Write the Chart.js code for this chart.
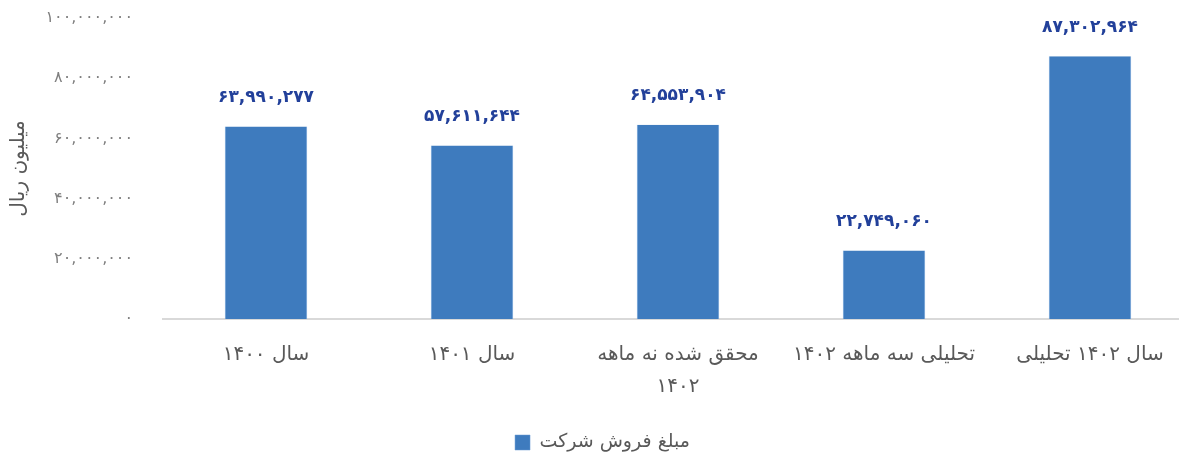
<!DOCTYPE html>
<html>
<head>
<meta charset="utf-8">
<script src="https://cdn.jsdelivr.net/npm/chart.js@4.4.0/dist/chart.umd.min.js"></script>
<style>
  html, body { margin: 0; padding: 0; background: #ffffff; overflow: hidden; }
  #wrap { width: 1193px; height: 455px; position: relative; }
</style>
</head>
<body>
<div id="wrap"><canvas id="c" width="1193" height="455"></canvas></div>
<script>
const categories = [
  "سال ۱۴۰۰",
  "سال ۱۴۰۱",
  ["محقق شده نه ماهه", "۱۴۰۲"],
  "تحلیلی سه ماهه ۱۴۰۲",
  "سال ۱۴۰۲ تحلیلی"
];
const salesValues = [63990277, 57611644, 64553904, 22749060, 87302964];
const seriesName = "مبلغ فروش شرکت";
const axisTitle = "میلیون ریال";
const yTicks = [0, 20000000, 40000000, 60000000, 80000000, 100000000];

const FA = "۰۱۲۳۴۵۶۷۸۹";
function toFa(n) {
  return Math.round(n).toLocaleString('en-US').replace(/[0-9]/g, d => FA[+d]);
}

const FONT = "'DejaVu Sans', sans-serif";

const valueLabels = {
  id: 'valueLabels',
  afterDatasetsDraw(chart) {
    const ctx = chart.ctx;
    const meta = chart.getDatasetMeta(0);
    ctx.save();
    ctx.font = "bold 17px " + FONT;
    ctx.fillStyle = '#22409A';
    ctx.textAlign = 'center';
    ctx.textBaseline = 'middle';
    meta.data.forEach((bar, i) => {
      ctx.fillText(toFa(salesValues[i]), bar.x, bar.y - 29);
    });
    ctx.restore();
  }
};

const legendShift = {
  id: 'legendShift',
  afterLayout(chart) {
    const lg = chart.legend;
    if (lg) { lg.left += 6; lg.right += 6; lg.top += 7; lg.bottom += 7; }
  }
};

new Chart(document.getElementById('c'), {
  type: 'bar',
  data: {
    labels: categories,
    datasets: [{
      label: seriesName,
      data: salesValues,
      backgroundColor: '#3E7BBE',
      borderColor: '#6A9BD3',
      borderWidth: { left: 1, right: 1, top: 0, bottom: 0 },
      categoryPercentage: 1.0,
      barPercentage: 0.4
    }]
  },
  options: {
    responsive: false,
    animation: false,
    devicePixelRatio: 1,
    layout: { padding: { top: 18, right: 0, bottom: 0, left: 0 } },
    plugins: {
      legend: {
        position: 'bottom',
        rtl: false,
        textDirection: 'rtl',
        labels: {
          boxWidth: 15,
          boxHeight: 15,
          padding: 4,
          color: '#595959',
          font: { family: FONT, size: 19 }
        }
      },
      tooltip: { enabled: false }
    },
    scales: {
      x: {
        grid: { display: false, drawTicks: false },
        border: { display: true, color: '#D9D9D9', width: 2 },
        ticks: {
          color: '#595959',
          padding: 20,
          maxRotation: 0,
          autoSkip: false,
          font: { family: FONT, size: 20, lineHeight: 1.6 }
        },
        afterFit(scale) { scale.height = 103; }
      },
      y: {
        min: 0,
        max: 100000000,
        afterBuildTicks(scale) { scale.ticks = yTicks.map(v => ({ value: v })); },
        grid: { display: false, drawTicks: false },
        border: { display: false },
        ticks: {
          color: '#7F7F7F',
          padding: 30,
          font: { family: FONT, size: 16 },
          callback: v => toFa(v)
        },
        title: {
          display: true,
          text: axisTitle,
          color: '#595959',
          font: { family: FONT, size: 20 },
          padding: { top: 7, bottom: 0 }
        },
        afterFit(scale) {
          scale.width = 163;
          scale.paddingTop = 0;
          scale.paddingBottom = 0;
        }
      }
    }
  },
  plugins: [valueLabels, legendShift]
});
</script>
</body>
</html>
